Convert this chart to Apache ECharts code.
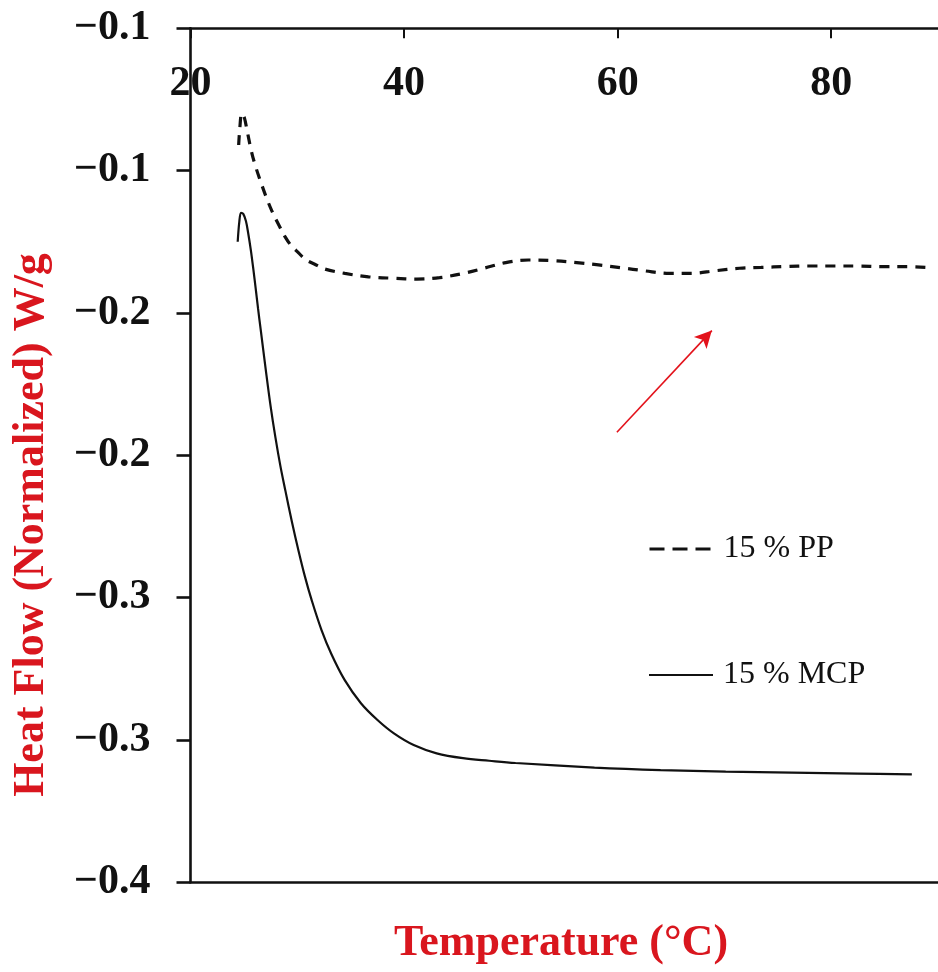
<!DOCTYPE html>
<html>
<head>
<meta charset="utf-8">
<script src="https://cdn.jsdelivr.net/npm/echarts@6/dist/echarts.min.js"></script>
<style>
html,body{margin:0;padding:0;background:#fff;}
#chart{width:938px;height:972px;}
</style>
</head>
<body>
<div id="chart"></div>
<script>
// ---- Data ----
const ppTemp = [24.51,24.62,24.80,25.03,25.31,25.68,26.05,26.61,27.16,27.71,28.27,28.82,29.38,30.12,30.76,31.59,32.61,34.46,36.67,38.98,41.20,43.33,45.54,47.48,49.52,51.64,53.86,56.17,58.20,60.32,62.54,64.85,66.88,69.10,71.41,73.44,75.75,77.97,80.28,82.49,84.80,87.02,89.05];
const ppHeat = [-0.1410,-0.1350,-0.1299,-0.1312,-0.1361,-0.1428,-0.1480,-0.1543,-0.1600,-0.1649,-0.1691,-0.1730,-0.1761,-0.1789,-0.1812,-0.1828,-0.1846,-0.1861,-0.1873,-0.1878,-0.1881,-0.1876,-0.1861,-0.1843,-0.1823,-0.1814,-0.1816,-0.1823,-0.1831,-0.1841,-0.1852,-0.1861,-0.1861,-0.1852,-0.1843,-0.1840,-0.1837,-0.1835,-0.1835,-0.1835,-0.1837,-0.1837,-0.1840];

const mcpTemp = [24.42,24.57,24.73,24.94,25.19,25.40,25.65,25.87,26.12,26.33,26.58,27.04,27.50,27.96,28.42,28.89,29.50,30.12,30.73,31.34,32.27,33.19,34.43,35.96,37.51,39.05,40.90,43.05,45.52,47.97,50.44,57.83,64.02,70.12,76.31,82.49,87.55];
const mcpHeat = [-0.1750,-0.1680,-0.1648,-0.1652,-0.1677,-0.1719,-0.1779,-0.1842,-0.1919,-0.1986,-0.2060,-0.2197,-0.2327,-0.2439,-0.2538,-0.2625,-0.2734,-0.2836,-0.2928,-0.3008,-0.3114,-0.3198,-0.3289,-0.3371,-0.3430,-0.3477,-0.3518,-0.3547,-0.3564,-0.3573,-0.3581,-0.3597,-0.3606,-0.3611,-0.3615,-0.3618,-0.3621];

const seriesNames = ['15 % PP', '15 % MCP'];
const xTickLabels = ['20', '40', '60', '80'];
// y tick labels from bottom (-0.40) to top (-0.10), step 0.05, as printed
const yTickLabels = ['\u22120.4', '\u22120.3', '\u22120.3', '\u22120.2', '\u22120.2', '\u22120.1', '\u22120.1'];
const arrowStart = [59.93, -0.2419];
const arrowEnd = [68.82, -0.2062];

const xName = 'Temperature (\u00B0C)';
const yName = 'Heat Flow (Normalized) W/g';

// ---- Chart ----
const X_MIN = 20, X_MAX = 90, X_INT = 20;
const Y_MIN = -0.4, Y_MAX = -0.1, Y_INT = 0.05;
const SERIF = '"Liberation Serif", "Times New Roman", serif';
const RED = '#d9161e';
const INK = '#111111';
const CLEAR = 'rgba(0,0,0,0)';

const chart = echarts.init(document.getElementById('chart'), null, {renderer: 'canvas'});

const zip = (a, b) => a.map((v, i) => [v, b[i]]);

const legendBase = {
  left: 648, padding: 0, orient: 'vertical',
  itemWidth: 64, itemHeight: 4, selectedMode: false,
  textStyle: {fontFamily: SERIF, fontSize: 32, color: INK, padding: [0, 0, 0, 5]},
  itemStyle: {color: CLEAR, borderColor: CLEAR, borderWidth: 0, opacity: 0}
};

const option = {
  backgroundColor: '#ffffff',
  animation: false,
  grid: {left: 190.5, right: -10.25, top: 28.3, bottom: 89.7, containLabel: false},
  xAxis: [
    {
      type: 'value', position: 'top', min: X_MIN, max: X_MAX, interval: X_INT,
      axisLine: {show: true, onZero: false, lineStyle: {color: INK, width: 2.6}},
      axisTick: {show: true, inside: true, length: 10, lineStyle: {color: INK, width: 2}},
      splitLine: {show: false},
      axisLabel: {
        show: true, inside: true, margin: 35, showMaxLabel: false,
        fontFamily: SERIF, fontWeight: 'bold', fontSize: 42, color: INK,
        formatter: function (v) {
          const i = Math.round((v - X_MIN) / X_INT);
          return (Math.abs(v - (X_MIN + i * X_INT)) < 1e-6 && xTickLabels[i]) ? xTickLabels[i] : '';
        }
      }
    },
    {
      type: 'value', position: 'bottom', min: X_MIN, max: X_MAX, interval: X_INT,
      axisLine: {show: true, onZero: false, lineStyle: {color: INK, width: 2.6}},
      axisTick: {show: false}, axisLabel: {show: false}, splitLine: {show: false}
    }
  ],
  yAxis: {
    type: 'value', min: Y_MIN, max: Y_MAX, interval: Y_INT,
    axisLine: {show: true, onZero: false, lineStyle: {color: INK, width: 2.6}},
    axisTick: {show: true, inside: false, length: 14, lineStyle: {color: INK, width: 2.6}},
    splitLine: {show: false},
    axisLabel: {
      margin: 40, fontFamily: SERIF, fontWeight: 'bold', fontSize: 42, color: INK,
      formatter: function (v) {
        const i = Math.round((v - Y_MIN) / Y_INT);
        return yTickLabels[i] || '';
      }
    }
  },
  legend: [
    Object.assign({}, legendBase, {
      data: [seriesNames[0]], top: 533,
      lineStyle: {type: [15, 8], width: 3, color: INK}
    }),
    Object.assign({}, legendBase, {
      data: [seriesNames[1]], top: 659,
      lineStyle: {type: 'solid', width: 2, color: INK}
    })
  ],
  series: [
    {
      name: seriesNames[0], type: 'line', xAxisIndex: 0,
      data: zip(ppTemp, ppHeat), symbol: 'none', showSymbol: false,
      smooth: 0.35,
      lineStyle: {color: INK, width: 3.2, type: [10, 8]},
      itemStyle: {color: INK},
      silent: true,
      markLine: {
        silent: true, symbol: ['none', 'arrow'], symbolSize: [13, 17],
        label: {show: false},
        lineStyle: {color: '#e3121b', width: 1.6, type: 'solid'},
        data: [[{coord: arrowStart}, {coord: arrowEnd}]]
      }
    },
    {
      name: seriesNames[1], type: 'line', xAxisIndex: 0,
      data: zip(mcpTemp, mcpHeat), symbol: 'none', showSymbol: false,
      smooth: 0.35,
      lineStyle: {color: INK, width: 2.2, type: 'solid'},
      itemStyle: {color: INK},
      silent: true
    }
  ],
  graphic: [
    {
      type: 'text', x: 561, y: 944,
      style: {text: xName, font: 'bold 44px ' + SERIF, fill: RED, align: 'center', verticalAlign: 'middle'}
    },
    {
      type: 'text', x: 32, y: 525, rotation: Math.PI / 2,
      style: {text: yName, font: 'bold 44px ' + SERIF, fill: RED, align: 'center', verticalAlign: 'middle'}
    }
  ]
};

chart.setOption(option);
</script>
</body>
</html>
